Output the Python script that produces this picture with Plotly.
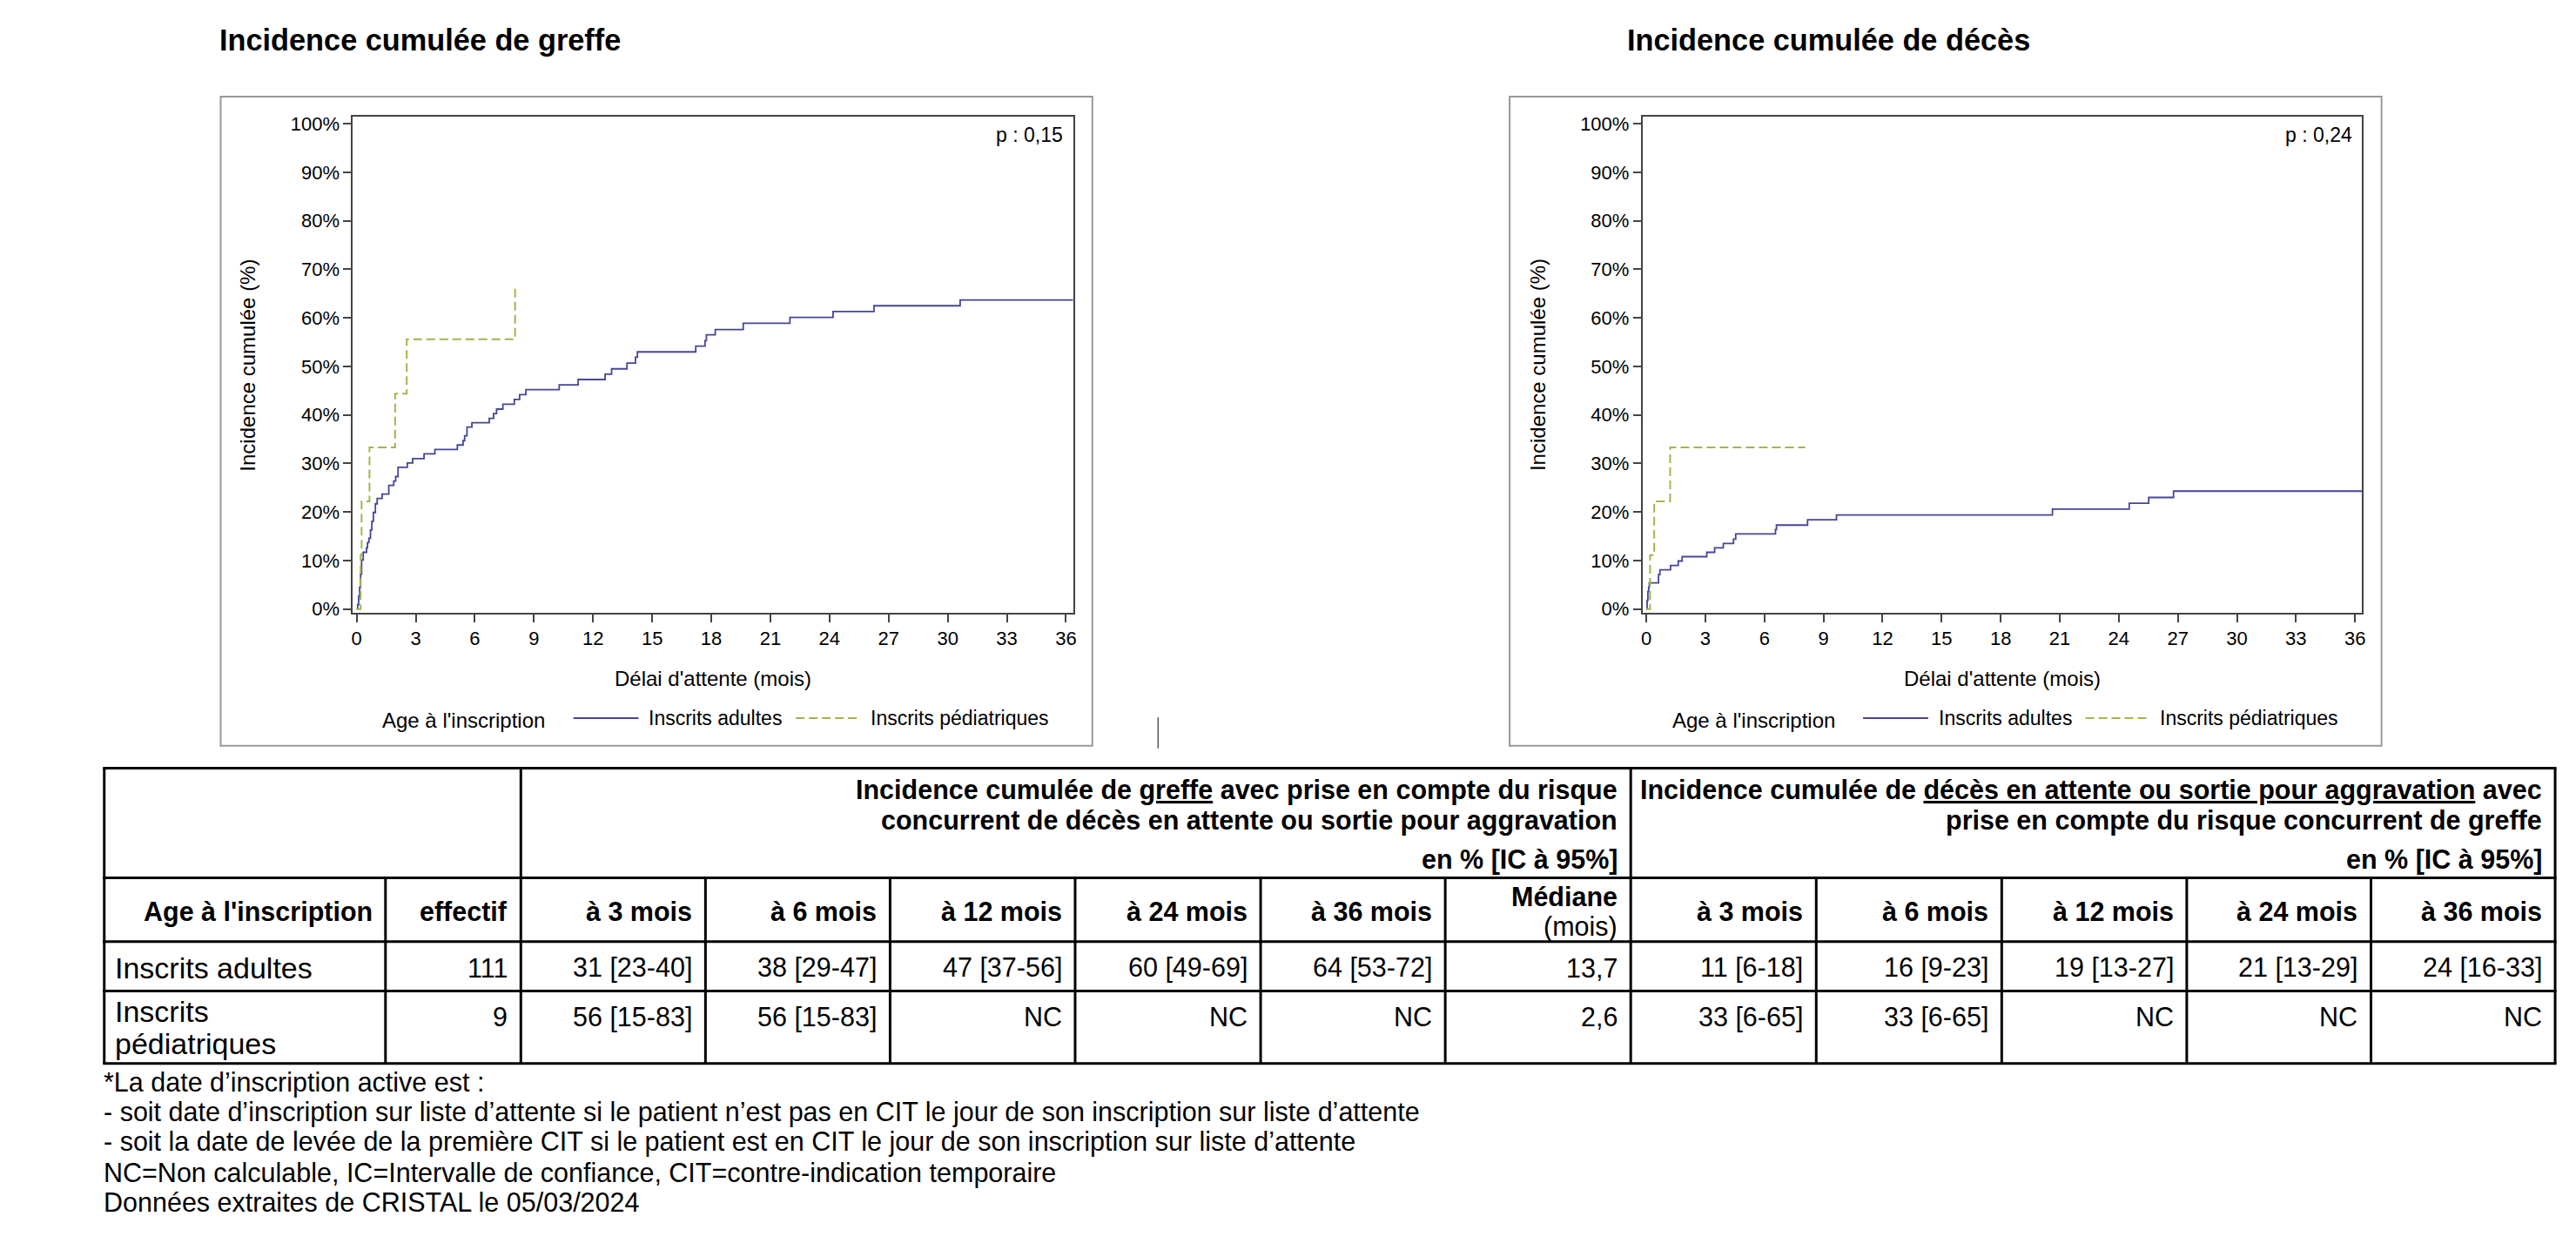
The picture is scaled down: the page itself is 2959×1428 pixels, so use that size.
import plotly.graph_objects as go

# ---------------- DATA ----------------
# Incidence cumulée de greffe (mois, %)
greffe_adultes_t = [0, 0.05, 0.1, 0.15, 0.2, 0.25, 0.33, 0.5, 0.55, 0.62, 0.7, 0.77, 0.85, 0.95, 1.04,
                    1.29, 1.63, 1.88, 1.98, 2.10, 2.57, 2.84, 3.42, 3.97, 5.11, 5.40, 5.48, 5.60, 5.85,
                    6.73, 6.95, 7.10, 7.42, 8.0, 8.27, 8.59, 10.28, 11.24, 12.61, 12.94, 13.72, 14.15,
                    14.25, 17.21, 17.68, 17.75, 18.2, 19.62, 21.99, 24.18, 26.26, 30.63, 36.37]
greffe_adultes_v = [0, 0.9, 2.7, 4.5, 7.2, 10.1, 11.7, 12.6, 13.7, 14.6, 16.3, 18.1, 19.9, 21.7, 22.8,
                    23.7, 25.5, 26.4, 27.3, 29.2, 30.1, 31.0, 32.0, 32.9, 33.8, 34.7, 35.7, 37.5, 38.4,
                    39.3, 40.3, 41.2, 42.2, 43.2, 44.2, 45.2, 46.2, 47.3, 48.4, 49.5, 50.7, 51.9,
                    53.0, 54.2, 55.3, 56.5, 57.6, 58.9, 60.1, 61.3, 62.5, 63.7, 63.7]
greffe_pedia_t = [0, 0.2, 0.25, 0.65, 1.95, 2.54, 8.04]
greffe_pedia_v = [0, 11.1, 22.2, 33.3, 44.4, 55.6, 66.7]

# Incidence cumulée de décès (mois, %)
deces_adultes_t = [0, 0.04, 0.08, 0.12, 0.15, 0.62, 0.69, 1.23, 1.62, 1.82, 3.07, 3.47, 3.91, 4.43,
                   4.54, 6.56, 6.61, 8.19, 9.66, 20.63, 24.53, 25.52, 26.78, 36.37]
deces_adultes_v = [0, 1.8, 3.6, 4.5, 5.4, 7.1, 8.1, 9.0, 9.9, 10.8, 11.7, 12.6, 13.5, 14.4,
                   15.5, 16.4, 17.3, 18.4, 19.4, 20.6, 21.8, 23.0, 24.3, 24.3]
deces_pedia_t = [0, 0.19, 0.40, 1.21, 8.07]
deces_pedia_v = [0, 11.1, 22.2, 33.3, 33.3]

series_names = ["Inscrits adultes", "Inscrits pédiatriques"]
legend_title = "Age à l'inscription"
chart_titles = ["Incidence cumulée de greffe", "Incidence cumulée de décès"]
p_values = ["p : 0,15", "p : 0,24"]
x_ticks = [0, 3, 6, 9, 12, 15, 18, 21, 24, 27, 30, 33, 36]
y_ticks = [0, 10, 20, 30, 40, 50, 60, 70, 80, 90, 100]
x_title = "Délai d'attente (mois)"
y_title = "Incidence cumulée (%)"

# Table
horizons = ["à 3 mois", "à 6 mois", "à 12 mois", "à 24 mois", "à 36 mois"]
row_labels = [["Inscrits adultes"], ["Inscrits", "pédiatriques"]]
effectifs = ["111", "9"]
greffe_vals = [["31 [23-40]", "38 [29-47]", "47 [37-56]", "60 [49-69]", "64 [53-72]"],
               ["56 [15-83]", "56 [15-83]", "NC", "NC", "NC"]]
medianes = ["13,7", "2,6"]
deces_vals = [["11 [6-18]", "16 [9-23]", "19 [13-27]", "21 [13-29]", "24 [16-33]"],
              ["33 [6-65]", "33 [6-65]", "NC", "NC", "NC"]]
header_greffe = ["<b>Incidence cumulée de <u>greffe</u> avec prise en compte du risque</b>",
                 "<b>concurrent de décès en attente ou sortie pour aggravation</b>",
                 "<b>en % [IC à 95%]</b>"]
header_deces = ["<b>Incidence cumulée de <u>décès en attente ou sortie pour aggravation</u> avec</b>",
                "<b>prise en compte du risque concurrent de greffe</b>",
                "<b>en % [IC à 95%]</b>"]
footnotes = ["*La date d’inscription active est :",
             "- soit date d’inscription sur liste d’attente si le patient n’est pas en CIT le jour de son inscription sur liste d’attente",
             "- soit la date de levée de la première CIT si le patient est en CIT le jour de son inscription sur liste d’attente",
             "NC=Non calculable, IC=Intervalle de confiance, CIT=contre-indication temporaire",
             "Données extraites de CRISTAL le 05/03/2024"]

# ---------------- LAYOUT ----------------
W, H = 2959, 1428
FONT = "Liberation Sans, Arial, sans-serif"
C_AD = "#45459a"
C_PE = "#9DB84A"
TXT = 30.5


def px(x):
    return x / W


def py(y):
    return 1 - y / H


fig = go.Figure()

charts = [
    (greffe_adultes_t, greffe_adultes_v, greffe_pedia_t, greffe_pedia_v, "x", "y"),
    (deces_adultes_t, deces_adultes_v, deces_pedia_t, deces_pedia_v, "x2", "y2"),
]
for ta, va, tp, vp, xa, ya in charts:
    fig.add_trace(go.Scatter(x=ta, y=va, mode="lines", line=dict(color=C_AD, width=1.8, shape="hv"),
                             name=series_names[0], xaxis=xa, yaxis=ya, showlegend=False))
    fig.add_trace(go.Scatter(x=tp, y=vp, mode="lines",
                             line=dict(color=C_PE, width=2, shape="hv", dash="10px,5px"),
                             name=series_names[1], xaxis=xa, yaxis=ya, showlegend=False))

plot_left = [404, 1888.4]
plot_right = [1233.3, 2716.6]
PT, PB = 131.5, 706

axis_common = dict(showline=True, mirror=True, linecolor="#444", linewidth=1.5,
                   ticks="outside", ticklen=9, tickwidth=1.5, tickcolor="#444",
                   showgrid=False, zeroline=False,
                   tickfont=dict(family=FONT, size=22, color="black"))

fig.update_layout(
    width=W, height=H, margin=dict(l=0, r=0, t=0, b=0),
    paper_bgcolor="white", plot_bgcolor="white",
    font=dict(family=FONT, color="black"),
    showlegend=False,
    xaxis=dict(domain=[px(plot_left[0]), px(plot_right[0])], range=[-0.2, 36.37], anchor="y",
               tickvals=x_ticks, **axis_common),
    yaxis=dict(domain=[py(PB), py(PT)], range=[-0.78, 101.4], anchor="x",
               tickvals=y_ticks, ticktext=[f"{v}%" for v in y_ticks], **axis_common),
    xaxis2=dict(domain=[px(plot_left[1]), px(plot_right[1])], range=[-0.2, 36.35], anchor="y2",
                tickvals=x_ticks, **axis_common),
    yaxis2=dict(domain=[py(PB), py(PT)], range=[-0.78, 101.4], anchor="x2",
                tickvals=y_ticks, ticktext=[f"{v}%" for v in y_ticks], **axis_common),
)

annotations = []
shapes = []


def ann(x, y, text, size=TXT, xanchor="left", yanchor="middle", angle=0):
    annotations.append(dict(x=px(x), y=py(y), xref="paper", yref="paper", text=text,
                            showarrow=False, xanchor=xanchor, yanchor=yanchor, textangle=angle,
                            font=dict(family=FONT, size=size, color="black")))


def line(x0, y0, x1, y1, color="black", width=3, dash=None):
    d = dict(type="line", xref="paper", yref="paper", x0=px(x0), y0=py(y0), x1=px(x1), y1=py(y1),
             line=dict(color=color, width=width))
    if dash:
        d["line"]["dash"] = dash
    shapes.append(d)


# chart decorations
title_x = [249, 1868.5]
frame_x = [(252, 1255.3), (1735.6, 2739.2)]
for i in range(2):
    off = plot_left[i] - plot_left[0]
    ann(title_x[i], 42, f"<b>{chart_titles[i]}</b>", size=34.3)
    shapes.append(dict(type="rect", xref="paper", yref="paper", x0=px(frame_x[i][0]), x1=px(frame_x[i][1]),
                       y0=py(860), y1=py(108), line=dict(color="#999999", width=2)))
    ann(1223 + off, 152, p_values[i], size=23, xanchor="right")
    ann((plot_left[i] + plot_right[i]) / 2, 782.5, x_title, size=24, xanchor="center")
    ann(283 + off, (PT + PB) / 2, y_title, size=24, xanchor="center", angle=-90)
    # legend
    ann(436 + off, 830, legend_title, size=24)
    line(658 + off, 828, 733 + off, 828, color=C_AD, width=2)
    ann(743 + off, 828, series_names[0], size=23)
    line(914 + off, 828, 987 + off, 828, color=C_PE, width=2, dash="10px,5px")
    ann(998 + off, 828, series_names[1], size=23)

line(1331, 827, 1331, 863, color="#555", width=1.5)

# ---------------- TABLE ----------------
cols = [118, 441.7, 597.5, 810, 1022.5, 1235.5, 1449, 1661.5, 1875, 2088.5, 2302, 2515, 2727, 2939]
rows = [886, 1013, 1087, 1144, 1228]
for r in rows:
    line(cols[0] - 1.5, r, cols[-1] + 1.5, r)
for i, c in enumerate(cols):
    if i in (0, 2, 8, len(cols) - 1):
        line(c, rows[0], c, rows[-1])
    else:
        line(c, rows[1], c, rows[-1])

PAD = 13
for k, y in enumerate([911, 946, 992]):
    ann(cols[8] - PAD, y, header_greffe[k], xanchor="right")
    ann(cols[-1] - PAD, y, header_deces[k], xanchor="right")

hdr_y = 1052
ann(cols[1] - PAD, hdr_y, "<b>Age à l'inscription</b>", xanchor="right")
ann(cols[2] - PAD, hdr_y, "<b>effectif</b>", xanchor="right")
for j, h in enumerate(horizons):
    ann(cols[3 + j] - PAD, hdr_y, f"<b>{h}</b>", xanchor="right")
    ann(cols[9 + j] - PAD, hdr_y, f"<b>{h}</b>", xanchor="right")
ann(cols[8] - PAD, 1035, "<b>Médiane</b>", xanchor="right")
ann(cols[8] - PAD, 1069, "(mois)", xanchor="right")

row_y = [1117, 1174]
for r in range(2):
    y = row_y[r]
    if len(row_labels[r]) == 1:
        ann(cols[0] + 10, y, row_labels[r][0], size=34)
    else:
        ann(cols[0] + 10, 1168, row_labels[r][0], size=34)
        ann(cols[0] + 10, 1205, row_labels[r][1], size=34)
    ann(cols[2] - PAD, y, effectifs[r], xanchor="right")
    for j in range(5):
        ann(cols[3 + j] - PAD, y, greffe_vals[r][j], xanchor="right")
        ann(cols[9 + j] - PAD, y, deces_vals[r][j], xanchor="right")
    ann(cols[8] - PAD, y, medianes[r], xanchor="right")

for k, (y, t) in enumerate(zip([1250, 1284.5, 1319, 1355, 1389], footnotes)):
    ann(115, y, t)

fig.update_layout(annotations=annotations, shapes=shapes)

fig.write_html("out.html", config={"displayModeBar": False},
               post_script="document.body.style.margin='0';document.body.style.overflow='hidden';")
